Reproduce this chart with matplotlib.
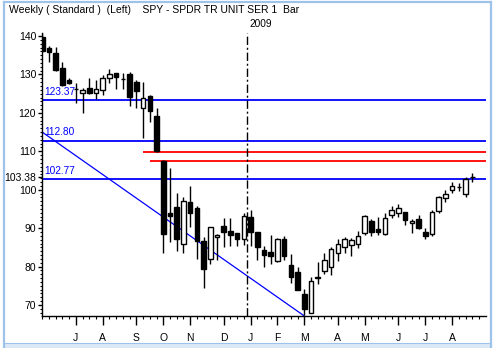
import matplotlib
matplotlib.use("Agg")
import matplotlib.pyplot as plt
from matplotlib.lines import Line2D
from matplotlib.patches import Rectangle
import numpy as np

plt.rcParams["font.family"] = ["Liberation Sans", "DejaVu Sans"]

# Weekly SPY bars, Jun 2008 - Aug 2009
opens = [139.8, 136.8, 135.7, 131.8, 128.5, 126.3, 125.1, 126.4, 125.3, 125.9,
         129.2, 130.3, 128.9, 130.1, 128.1, 121.4, 124.4, 119.2, 107.5, 93.9,
         95.4, 86.0, 96.7, 95.2, 86.6, 82.1, 87.6, 90.6, 89.3, 88.7,
         87.3, 92.9, 88.9, 84.3, 83.7, 81.4, 87.2, 80.3, 78.5, 72.9,
         68.0, 77.3, 78.8, 79.9, 83.5, 85.0, 85.5, 85.8, 88.7, 91.9,
         89.8, 88.4, 93.5, 93.9, 94.1, 91.3, 92.3, 88.9, 88.4, 94.5,
         97.9, 99.9, 100.6, 98.8, 103.3]
highs = [140.7, 137.4, 137.1, 133.3, 129.2, 127.7, 126.5, 129.0, 128.5, 129.8,
         131.3, 130.4, 130.3, 130.7, 128.5, 128.1, 124.7, 121.2, 107.7, 105.6,
         99.1, 98.2, 101.0, 95.7, 87.8, 90.4, 88.5, 92.6, 92.6, 88.8,
         93.9, 94.7, 89.0, 85.4, 88.2, 87.5, 88.0, 83.3, 79.9, 74.2,
         77.3, 81.3, 83.5, 85.2, 87.3, 87.6, 87.4, 89.3, 93.4, 92.4,
         92.8, 93.9, 95.8, 96.3, 94.2, 92.3, 93.4, 90.0, 94.7, 98.4,
         99.9, 102.1, 101.7, 103.2, 104.3]
lows = [135.8, 133.3, 131.0, 127.0, 127.4, 122.5, 119.9, 124.8, 123.5, 124.6,
        127.7, 126.1, 126.1, 121.8, 121.4, 113.6, 117.7, 109.9, 83.6, 86.5,
        84.1, 83.6, 90.2, 82.0, 74.5, 80.6, 81.7, 85.2, 85.4, 85.4,
        85.6, 85.4, 81.7, 80.0, 80.8, 81.2, 81.7, 75.8, 73.9, 67.4,
        67.8, 75.5, 78.0, 77.9, 81.5, 83.6, 82.8, 84.8, 88.2, 88.0,
        88.3, 88.3, 92.7, 93.0, 90.8, 88.8, 89.9, 87.1, 88.0, 94.0,
        96.9, 99.2, 99.7, 98.2, 101.9]
closes = [136.0, 135.9, 131.2, 127.2, 127.7, 126.1, 125.9, 125.3, 126.2, 129.2,
          130.1, 129.4, 128.7, 124.2, 125.8, 124.0, 120.6, 110.1, 88.5, 93.2,
          87.1, 97.0, 93.9, 86.7, 79.4, 90.2, 88.2, 89.1, 88.3, 87.3,
          93.1, 89.0, 85.2, 83.1, 82.8, 87.2, 82.8, 77.4, 74.0, 69.0,
          76.2, 77.0, 81.6, 84.6, 85.8, 87.1, 86.8, 87.9, 93.1, 88.9,
          89.1, 92.6, 94.6, 95.2, 92.1, 91.9, 90.0, 88.0, 94.1, 98.0,
          98.8, 101.1, 100.7, 102.9, 103.38]

month_bars = [5, 9, 14, 18, 22, 27, 31, 35, 39, 44, 48, 53, 57, 61]
month_labels = ["J", "A", "S", "O", "N", "D", "J", "F", "M", "A", "M", "J", "J", "A"]

# horizontal levels: (value, first bar, label)
blue_levels = [123.37, 112.80, 102.77]
red_levels = [109.8, 107.5]
red_starts = [15.0, 16.05]
trend_x = [-0.09, 39.0]
trend_y = [115.1, 67.15]
year_break = 30.5
last_close = 103.38

W, H = 494, 348
fig = plt.figure(figsize=(W / 100, H / 100), dpi=100)
fig.patch.set_facecolor("white")
ax = fig.add_axes([41.7 / W, 1 - 316 / H, (485.7 - 41.7) / W, (316 - 33) / H])

x = np.arange(len(opens))
o = np.array(opens)
c = np.array(closes)
up = c >= o
ax.vlines(x, lows, highs, color="black", linewidth=1.0, zorder=3)
bottoms = np.minimum(o, c)
heights = np.maximum(np.abs(c - o), 0.05)
ax.bar(x[up], heights[up], bottom=bottoms[up], width=0.68,
       facecolor="white", edgecolor="black", linewidth=1.0, zorder=4)
ax.bar(x[~up], heights[~up], bottom=bottoms[~up], width=0.68,
       facecolor="black", edgecolor="black", linewidth=1.0, zorder=4)

xmin, xmax = -0.09, 66.0
for lv in blue_levels:
    ax.hlines(lv, xmin, xmax, color="#0000ff", linewidth=1.3, zorder=2)
    ax.text(0.25, lv + 0.9, "%.2f" % lv, color="#0000ff", fontsize=7.3,
            va="bottom", ha="left", zorder=5)
for lv, st in zip(red_levels, red_starts):
    ax.hlines(lv, st, xmax, color="#ff0000", linewidth=1.3, zorder=2)

ax.plot(trend_x, trend_y, color="#0000ff", linewidth=0.9, zorder=2)
ax.axvline(year_break, color="black", linewidth=1.0,
           linestyle=(0, (6, 2, 1.5, 2)), zorder=2)
ax.text(year_break + 0.4, 141.9, "2009", fontsize=7.3, ha="left", va="bottom",
        clip_on=False)

ax.set_xlim(xmin, xmax)
ax.set_ylim(67.14, 140.8)

for s in ["top", "right"]:
    ax.spines[s].set_visible(False)
for s in ["left", "bottom"]:
    ax.spines[s].set_linewidth(1.0)

yt = [70, 80, 90, 100, last_close, 110, 120, 130, 140]
ax.set_yticks(yt)
ax.set_yticklabels(["70", "80", "90", "100", "%.2f" % last_close,
                    "110", "120", "130", "140"])
ax.set_yticks(np.arange(68, 141, 1), minor=True)
ax.tick_params(axis="y", which="major", length=3, width=1, pad=1, labelsize=7.5)
ax.tick_params(axis="y", which="minor", length=1.5, width=0.8)

ax.set_xticks(month_bars)
ax.set_xticklabels(month_labels)
ax.set_xticks(np.arange(0, 66), minor=True)
ax.tick_params(axis="x", which="major", length=6.5, width=1, pad=6, labelsize=7.5)
ax.tick_params(axis="x", which="minor", length=2.2, width=0.8)

fig.text(9 / W, 1 - 10 / H,
         "Weekly ( Standard )  (Left)    SPY - SPDR TR UNIT SER 1  Bar",
         fontsize=7.5, ha="left", va="center")

# window frame
edge = "#9dc3ea"
fig.add_artist(Line2D([3.5 / W, 3.5 / W], [0, 1 - 1.5 / H], transform=fig.transFigure,
                      color=edge, linewidth=1.6))
fig.add_artist(Line2D([3.5 / W, 490.5 / W], [1 - 1.5 / H, 1 - 1.5 / H],
                      transform=fig.transFigure, color=edge, linewidth=1.6))
fig.add_artist(Line2D([490.5 / W, 490.5 / W], [0, 1 - 1.5 / H], transform=fig.transFigure,
                      color=edge, linewidth=1.6))
fig.add_artist(Rectangle((3.5 / W, 0), (487 / W), 5 / H, transform=fig.transFigure,
                         facecolor="#dde9f6", edgecolor=edge, linewidth=0.8))

fig.savefig("out.png", dpi=100)
plt.close()
